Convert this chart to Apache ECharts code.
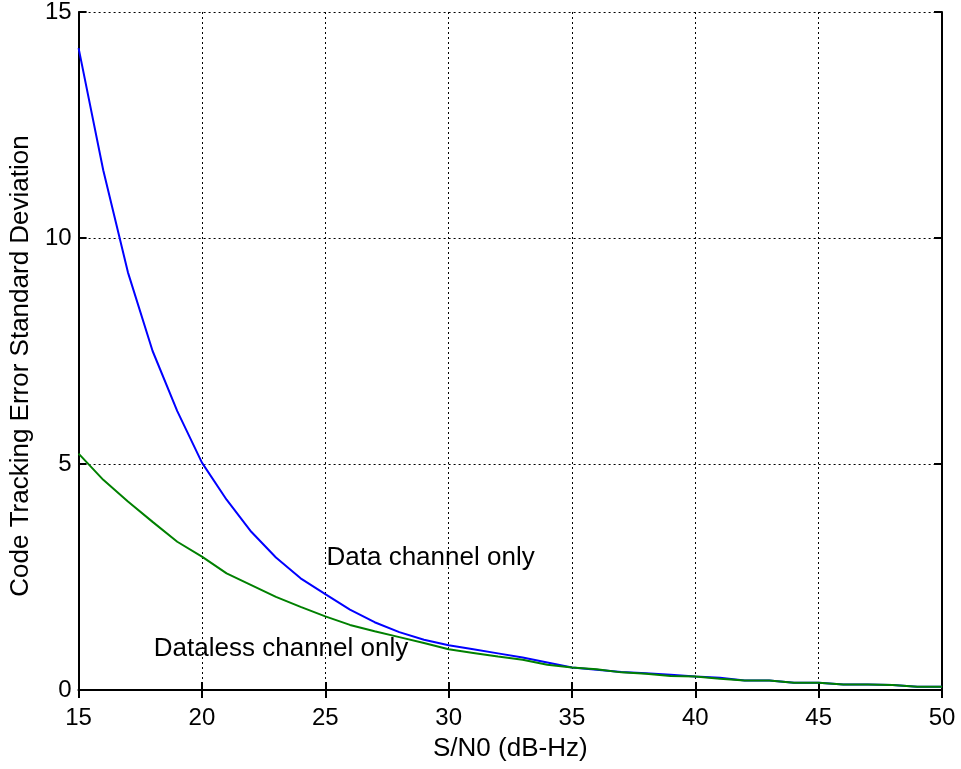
<!DOCTYPE html>
<html>
<head>
<meta charset="utf-8">
<script src="https://cdn.jsdelivr.net/npm/echarts@6/dist/echarts.min.js"></script>
<style>
  html, body { margin: 0; padding: 0; background: #fff; }
  #chart { width: 961px; height: 769px; }
</style>
</head>
<body>
<div id="chart"></div>
<script>
const snr = [15, 16, 17, 18, 19, 20, 21, 22, 23, 24, 25, 26, 27, 28, 29, 30, 31, 32,
  33, 34, 35, 36, 37, 38, 39, 40, 41, 42, 43, 44, 45, 46, 47, 48, 49, 50];

const dataChannel = [14.2, 11.5, 9.24, 7.5, 6.17, 5.03, 4.21, 3.5, 2.93, 2.47, 2.12, 1.78,
  1.5, 1.28, 1.11, 0.99, 0.9, 0.81, 0.72, 0.61, 0.5, 0.45, 0.4, 0.37, 0.34, 0.3,
  0.27, 0.21, 0.21, 0.16, 0.16, 0.12, 0.12, 0.11, 0.07, 0.07];

const datalessChannel = [5.23, 4.65, 4.17, 3.72, 3.28, 2.95, 2.58, 2.32, 2.06, 1.84, 1.63, 1.44,
  1.3, 1.17, 1.04, 0.9, 0.82, 0.74, 0.67, 0.56, 0.5, 0.46, 0.39, 0.36, 0.31, 0.3,
  0.25, 0.21, 0.21, 0.16, 0.16, 0.12, 0.12, 0.11, 0.07, 0.07];

// text annotations placed in data coordinates
const noteText = ["Data channel only", "Dataless channel only"];
const noteX = [25.05, 18.05];
const noteY = [2.92, 0.91];

const font = "'Liberation Sans', Arial, Helvetica, sans-serif";

const chart = echarts.init(document.getElementById("chart"));

const boxAxis = {
  min: 0, max: 15, interval: 5,
  axisLine: { show: true, lineStyle: { color: "#000", width: 2 } },
  axisTick: { show: true, inside: true, length: 8, lineStyle: { color: "#000", width: 2 } },
  axisLabel: { show: false },
  splitLine: { show: false },
};

chart.setOption({
  animation: false,
  textStyle: { fontFamily: font, color: "#000" },
  grid: { left: 78, right: 19, top: 12, bottom: 79 },
  xAxis: [
    {
      type: "value",
      min: 15, max: 50, interval: 5,
      name: "S/N0 (dB-Hz)",
      nameLocation: "middle",
      nameGap: 46,
      nameTextStyle: { fontSize: 26, color: "#000", fontFamily: font },
      axisLine: { onZero: false, lineStyle: { color: "#000", width: 2 } },
      axisTick: { inside: true, length: 8, lineStyle: { color: "#000", width: 2 } },
      axisLabel: { fontSize: 24, color: "#000", margin: 16, fontFamily: font,
        showMinLabel: true, showMaxLabel: true },
      splitLine: { show: true, lineStyle: { color: "#000", type: [2, 3], width: 1 } },
    },
    Object.assign({}, boxAxis, { type: "value", position: "top", min: 15, max: 50 }),
  ],
  yAxis: [
    {
      type: "value",
      min: 0, max: 15, interval: 5,
      name: "Code Tracking Error Standard Deviation",
      nameLocation: "middle",
      nameGap: 44,
      nameTextStyle: { fontSize: 26, color: "#000", fontFamily: font, padding: [0, 30, 0, 0] },
      axisLine: { show: true, onZero: false, lineStyle: { color: "#000", width: 2 } },
      axisTick: { show: true, inside: true, length: 8, lineStyle: { color: "#000", width: 2 } },
      axisLabel: { fontSize: 24, color: "#000", margin: 7, fontFamily: font },
      splitLine: { show: true, lineStyle: { color: "#000", type: [2, 3], width: 1 } },
    },
    Object.assign({}, boxAxis, { type: "value", position: "right" }),
  ],
  series: [
    {
      name: "Data channel only",
      type: "line",
      symbol: "none",
      lineStyle: { color: "#0000ff", width: 2 },
      data: snr.map((x, i) => [x, dataChannel[i]]),
      z: 3,
    },
    {
      name: "Dataless channel only",
      type: "line",
      symbol: "none",
      lineStyle: { color: "#008000", width: 2 },
      data: snr.map((x, i) => [x, datalessChannel[i]]),
      z: 4,
    },
    {
      type: "custom",
      silent: true,
      data: noteText.map((t, i) => [noteX[i], noteY[i], t]),
      renderItem: (params, api) => {
        const pt = api.coord([api.value(0), api.value(1)]);
        return {
          type: "text",
          x: pt[0],
          y: pt[1],
          style: {
            text: noteText[params.dataIndex],
            fill: "#000",
            font: "26px " + font,
            align: "left",
            verticalAlign: "middle",
          },
        };
      },
      z: 5,
    },
  ],
});
</script>
</body>
</html>
